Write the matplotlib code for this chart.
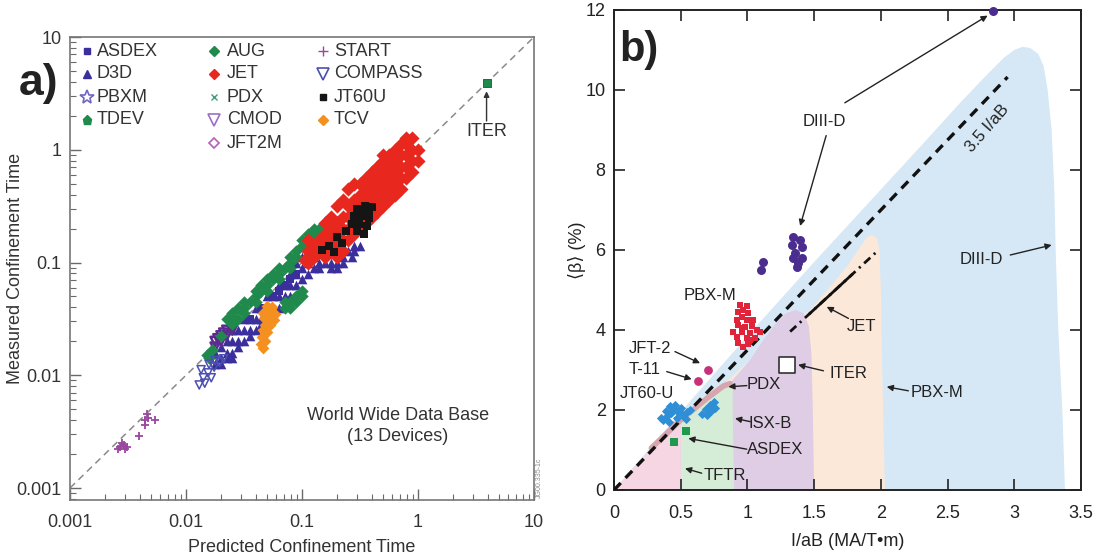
import matplotlib
matplotlib.use("Agg")
import matplotlib.pyplot as plt
from matplotlib.patches import Polygon
from matplotlib.lines import Line2D
from matplotlib.ticker import FixedLocator, LogLocator, NullFormatter

plt.rcParams['font.family'] = ['Liberation Sans', 'DejaVu Sans']
plt.rcParams['lines.scale_dashes'] = False

# ---------------- panel a) : confinement time database ----------------
# (predicted, measured) pairs in seconds
start_pts = [(0.0027, 0.0023), (0.0029, 0.0024), (0.0030, 0.0022), (0.0028, 0.0025),
             (0.0031, 0.0023), (0.0026, 0.0022), (0.0044, 0.0040), (0.0047, 0.0042),
             (0.0054, 0.0040), (0.0039, 0.0029), (0.0044, 0.0036), (0.0046, 0.0045)]
compass_pts = [(0.0135, 0.0112), (0.0141, 0.0095), (0.0155, 0.0105), (0.0158, 0.0125),
               (0.0175, 0.0118), (0.0178, 0.0135), (0.0195, 0.0130), (0.0211, 0.0140),
               (0.0145, 0.0085), (0.0130, 0.0082), (0.0165, 0.0095)]
cmod_pts = [(0.0178, 0.0178), (0.0178, 0.0200), (0.0200, 0.0200), (0.0200, 0.0224),
            (0.0224, 0.0224), (0.0224, 0.0251), (0.0251, 0.0282), (0.0251, 0.0251),
            (0.0266, 0.0300), (0.0211, 0.0237), (0.0188, 0.0211)]
d3d_pts = [(0.0178, 0.0126), (0.0178, 0.0158), (0.0200, 0.0141), (0.0200, 0.0178),
           (0.0224, 0.0158), (0.0224, 0.0200), (0.0251, 0.0158), (0.0251, 0.0200),
           (0.0251, 0.0251), (0.0282, 0.0200), (0.0282, 0.0251), (0.0316, 0.0200),
           (0.0316, 0.0251), (0.0316, 0.0316), (0.0355, 0.0251), (0.0355, 0.0316),
           (0.0398, 0.0251), (0.0398, 0.0316), (0.0398, 0.0398), (0.0447, 0.0316),
           (0.0447, 0.0398), (0.0501, 0.0316), (0.0501, 0.0398), (0.0501, 0.0501),
           (0.0562, 0.0398), (0.0562, 0.0501), (0.0631, 0.0398), (0.0631, 0.0501),
           (0.0631, 0.0631), (0.0708, 0.0501), (0.0708, 0.0631), (0.0794, 0.0501),
           (0.0794, 0.0631), (0.0794, 0.0794), (0.0891, 0.0631), (0.0891, 0.0794),
           (0.0891, 0.1000), (0.1000, 0.0708), (0.1000, 0.0891), (0.1000, 0.1120),
           (0.1120, 0.0794), (0.1120, 0.1000), (0.1120, 0.1260), (0.1260, 0.0891),
           (0.1260, 0.1120), (0.1410, 0.0891), (0.1410, 0.1000), (0.1580, 0.1000),
           (0.1780, 0.0891), (0.1780, 0.1000), (0.2000, 0.1000), (0.2000, 0.0891),
           (0.2240, 0.1000), (0.2240, 0.1120), (0.2510, 0.1260), (0.2700, 0.1120),
           (0.2820, 0.1260), (0.2820, 0.1410), (0.3160, 0.1410),
           (0.0224, 0.0141), (0.0282, 0.0178), (0.0355, 0.0224), (0.0447, 0.0282),
           (0.0562, 0.0355), (0.0200, 0.0126), (0.0251, 0.0141)]
asdex_pts = [(0.0447, 0.0398), (0.0562, 0.0501), (0.0708, 0.0631), (0.0891, 0.0794),
             (0.0631, 0.0562), (0.0794, 0.0708), (0.0355, 0.0316)]
aug_pts = [(0.0151, 0.0151), (0.0168, 0.0168), (0.0158, 0.0141), (0.0200, 0.0224),
           (0.0251, 0.0282), (0.0282, 0.0316), (0.0316, 0.0355), (0.0316, 0.0398),
           (0.0355, 0.0447), (0.0398, 0.0447), (0.0398, 0.0501), (0.0447, 0.0562),
           (0.0501, 0.0562), (0.0501, 0.0631), (0.0562, 0.0708), (0.0631, 0.0708),
           (0.0631, 0.0794), (0.0708, 0.0891), (0.0794, 0.0891), (0.0794, 0.1000),
           (0.0891, 0.1120), (0.0891, 0.1260), (0.1000, 0.1410), (0.1000, 0.1580),
           (0.1120, 0.1580), (0.1120, 0.1780), (0.1260, 0.1780), (0.1260, 0.2000),
           (0.1410, 0.2000),
           (0.0224, 0.0316), (0.0251, 0.0355), (0.0316, 0.0447), (0.0398, 0.0562),
           (0.0501, 0.0708), (0.0631, 0.0891), (0.0794, 0.1120), (0.0282, 0.0398),
           (0.0447, 0.0631), (0.0562, 0.0794),
           (0.0794, 0.0447), (0.0891, 0.0501), (0.0891, 0.0447), (0.1000, 0.0562),
           (0.1000, 0.0501), (0.0708, 0.0398), (0.0794, 0.0398), (0.0708, 0.0447)]
tcv_pts = [(0.046, 0.036), (0.050, 0.037), (0.054, 0.036), (0.058, 0.035), (0.050, 0.041),
           (0.055, 0.040), (0.047, 0.032), (0.052, 0.032), (0.057, 0.031), (0.048, 0.028),
           (0.053, 0.028), (0.046, 0.025), (0.050, 0.024), (0.045, 0.022), (0.048, 0.020),
           (0.044, 0.019), (0.046, 0.0175)]
jet_pts = [(0.106, 0.106), (0.112, 0.100),
           (0.112, 0.126), (0.112, 0.158),
           (0.126, 0.112), (0.126, 0.141),
           (0.141, 0.126), (0.141, 0.158),
           (0.158, 0.112), (0.158, 0.141), (0.158, 0.178), (0.158, 0.224),
           (0.178, 0.126), (0.178, 0.158), (0.178, 0.200), (0.178, 0.251),
           (0.200, 0.112), (0.200, 0.141), (0.200, 0.178), (0.200, 0.224), (0.200, 0.316),
           (0.224, 0.126), (0.224, 0.158), (0.224, 0.200), (0.224, 0.251), (0.224, 0.355),
           (0.251, 0.158), (0.251, 0.200), (0.251, 0.251), (0.251, 0.316), (0.251, 0.447),
           (0.282, 0.178), (0.282, 0.224), (0.282, 0.282), (0.282, 0.355), (0.282, 0.501),
           (0.316, 0.200), (0.316, 0.251), (0.316, 0.316), (0.316, 0.398), (0.316, 0.501),
           (0.355, 0.224), (0.355, 0.282), (0.355, 0.355), (0.355, 0.447), (0.355, 0.562),
           (0.398, 0.251), (0.398, 0.316), (0.398, 0.398), (0.398, 0.501), (0.398, 0.631),
           (0.447, 0.282), (0.447, 0.355), (0.447, 0.447), (0.447, 0.562), (0.447, 0.708),
           (0.501, 0.316), (0.501, 0.398), (0.501, 0.501), (0.501, 0.631), (0.501, 0.794),
           (0.501, 0.891),
           (0.562, 0.355), (0.562, 0.447), (0.562, 0.562), (0.562, 0.708), (0.562, 0.891),
           (0.631, 0.398), (0.631, 0.501), (0.631, 0.631), (0.631, 0.794), (0.631, 1.000),
           (0.708, 0.447), (0.708, 0.562), (0.708, 0.708), (0.708, 0.891), (0.708, 1.120),
           (0.794, 0.562), (0.794, 0.708), (0.794, 0.891), (0.794, 1.120), (0.794, 1.260),
           (0.891, 0.631), (0.891, 0.794), (0.891, 1.000), (0.891, 1.260),
           (1.000, 0.794), (1.000, 1.000)]
jt60u_pts = [(0.30, 0.30), (0.35, 0.32), (0.38, 0.29), (0.28, 0.26), (0.33, 0.26),
             (0.38, 0.25), (0.27, 0.22), (0.31, 0.22), (0.36, 0.21), (0.30, 0.19),
             (0.34, 0.18), (0.40, 0.31), (0.33, 0.30), (0.20, 0.17), (0.22, 0.15),
             (0.17, 0.14), (0.19, 0.125), (0.15, 0.13), (0.24, 0.19)]
iter_pt = (3.9, 3.9)
diag = [0.001, 10]

# ---------------- panel b) : beta limit ----------------
diiid_region = [(0, 0), (0.5, 1.95), (1.0, 3.85), (1.5, 5.7), (1.9, 7.15), (2.3, 8.6),
                (2.6, 9.7), (2.8, 10.4), (2.92, 10.8), (3.0, 11.0), (3.06, 11.08),
                (3.12, 11.05), (3.18, 10.9), (3.22, 10.6), (3.25, 10.0), (3.28, 9.0),
                (3.30, 7.5), (3.31, 6.0), (3.33, 4.0), (3.36, 2.0), (3.38, 0)]
jet_region = [(0, 0), (1.0, 3.2), (1.47, 4.5), (1.6, 5.0), (1.75, 5.6), (1.84, 6.05),
              (1.89, 6.3), (1.93, 6.38), (1.97, 6.3), (1.99, 6.0), (2.0, 5.0),
              (2.01, 3.0), (2.03, 0)]
isxb_region = [(0, 0), (0.5, 1.7), (0.85, 2.6), (1.02, 3.25), (1.12, 3.75), (1.22, 4.2),
               (1.29, 4.42), (1.36, 4.5), (1.42, 4.42), (1.46, 4.1), (1.48, 3.4),
               (1.49, 2.0), (1.5, 0)]
tftr_region = [(0.5, 0), (0.5, 1.75), (0.7, 2.3), (0.82, 2.6), (0.88, 2.64), (0.89, 2.5),
               (0.89, 2.0), (0.9, 0)]
pink_region = [(0, 0), (0.28, 1.05), (0.5, 1.75), (0.5, 0)]
pdx_band = [(0.28, 1.05), (0.5, 1.75), (0.7, 2.3), (0.82, 2.6), (0.87, 2.66)]

limit_slope = 3.5
limit_x = [0, 2.95]
jet_line = [(1.32, 3.96), (1.97, 5.96)]
jet_line_solid = [(1.47, 4.42), (1.78, 5.375)]

diiid_x = [1.344, 1.394, 1.332, 1.407, 1.357, 1.344, 1.407, 1.382, 1.369, 1.12, 1.10, 2.84]
diiid_y = [6.33, 6.25, 6.13, 6.08, 5.92, 5.79, 5.79, 5.67, 5.58, 5.71, 5.50, 11.97]
pbxm_x = [0.944, 0.994, 0.932, 1.007, 0.957, 0.919, 0.994, 1.044, 0.932, 0.982, 1.032,
          0.894, 0.957, 1.019, 1.069, 1.094, 0.919, 0.994, 1.057, 0.932, 1.007, 0.969,
          1.019, 0.970, 0.960]
pbxm_y = [4.63, 4.60, 4.46, 4.42, 4.33, 4.25, 4.25, 4.25, 4.13, 4.08, 4.10, 3.96, 3.96,
          3.92, 4.00, 3.96, 3.83, 3.79, 3.79, 3.67, 3.65, 3.58, 3.75, 4.50, 4.05]
jft2_t11_x = [0.707, 0.627]
jft2_t11_y = [3.00, 2.73]
jt60u_x = [0.37, 0.40, 0.39, 0.43, 0.45, 0.42, 0.48, 0.50, 0.47, 0.52, 0.55, 0.41, 0.35,
           0.46, 0.54, 0.57, 0.66, 0.69, 0.72, 0.70, 0.75, 0.73, 0.76]
jt60u_y = [1.75, 1.85, 1.97, 1.92, 2.03, 2.10, 1.95, 2.05, 1.80, 1.88, 1.95, 1.70, 1.80,
           2.12, 1.78, 2.00, 1.90, 2.02, 2.12, 1.87, 2.20, 1.97, 2.05]
asdex_x = [0.45, 0.54]
asdex_y = [1.21, 1.48]
iter_b = (1.295, 3.12)

W, H = 1098, 559
fig = plt.figure(figsize=(W / 100, H / 100), dpi=100)


def fx(px):
    return px / W


def fy(py):
    return 1 - py / H


# ======================= panel a =======================
axa = fig.add_axes([fx(70), fy(500), fx(534) - fx(70), fy(37) - fy(500)])
axa.set_xscale('log')
axa.set_yscale('log')
axa.set_xlim(0.001, 10)
axa.set_ylim(10 ** (-3 - 12 / 112.75), 10)
decades = [0.001, 0.01, 0.1, 1, 10]
labels = ['0.001', '0.01', '0.1', '1', '10']
for axis in (axa.xaxis, axa.yaxis):
    axis.set_major_locator(FixedLocator(decades))
    axis.set_minor_locator(LogLocator(base=10, subs=range(2, 10)))
    axis.set_minor_formatter(NullFormatter())
axa.set_xticklabels(labels)
axa.set_yticklabels(labels)
axa.tick_params(which='both', direction='in', top=False, right=False,
                colors='#6a6a6a', labelcolor='#333333', labelsize=13)
axa.tick_params(which='major', length=8, width=1.0, pad=6)
axa.tick_params(axis='x', which='major', pad=10)
axa.tick_params(which='minor', length=4, width=0.8)
for sp in axa.spines.values():
    sp.set_color('#777777')
    sp.set_linewidth(1.2)

axa.plot(diag, diag, color='#8a8a8a', lw=1.1, dashes=(5, 3.5), zorder=1)


def sc(pts, **kw):
    xs = [p[0] for p in pts]
    ys = [p[1] for p in pts]
    axa.scatter(xs, ys, **kw)


sc(d3d_pts, marker='^', s=48, color='#3a2f9c', linewidths=0, zorder=2)
sc(asdex_pts, marker='s', s=34, color='#3a2f9c', linewidths=0, zorder=2)
sc(cmod_pts, marker='v', s=42, facecolors='none', edgecolors='#5c2b8e', linewidths=1.8, zorder=3)
sc(aug_pts, marker='D', s=40, color='#1f8a4c', linewidths=0, zorder=3)
sc(tcv_pts, marker='D', s=36, color='#f39020', linewidths=0, zorder=4)
sc(jet_pts, marker='D', s=52, color='#e8281e', linewidths=0, zorder=4)
sc(jt60u_pts, marker='s', s=34, color='#151515', linewidths=0, zorder=5)
sc(compass_pts, marker='v', s=34, facecolors='none', edgecolors='#4b4fb0', linewidths=1.1, zorder=3)
sc(start_pts, marker='+', s=40, color='#9a47a0', linewidths=1.3, zorder=3)
axa.scatter([iter_pt[0]], [iter_pt[1]], marker='s', s=40, color='#1f8a4c',
            edgecolors='#145c32', linewidths=0.6, zorder=5)
axa.annotate('', xy=(3.9, 3.3), xytext=(3.9, 1.8),
             arrowprops=dict(arrowstyle='-|>', color='#333333', lw=1.0,
                             mutation_scale=8, shrinkA=0, shrinkB=0))
axa.text(3.9, 1.45, 'ITER', ha='center', va='center', fontsize=13, color='#333333')
axa.text(0.707, 0.16, 'World Wide Data Base\n(13 Devices)', transform=axa.transAxes,
         ha='center', va='center', fontsize=13, color='#333333', linespacing=1.35)
axa.set_xlabel('Predicted Confinement Time', fontsize=13, color='#333333')
axa.xaxis.set_label_coords(0.5, -0.085)
axa.set_ylabel('Measured Confinement Time', fontsize=13, color='#333333')
axa.yaxis.set_label_coords(-0.10, 0.5)

# legend, drawn as markers and text in figure pixels
legend_rows = [51, 74, 97, 120, 143]
legend_cols = [(87, 97), (214, 227), (323, 334)]
legend_items = [
    (0, 0, 's', '#3a2f9c', True, 'ASDEX'),
    (0, 1, '^', '#3a2f9c', True, 'D3D'),
    (0, 2, '*', '#6f66c4', False, 'PBXM'),
    (0, 3, 'p', '#1f8a4c', True, 'TDEV'),
    (1, 0, 'D', '#1f8a4c', True, 'AUG'),
    (1, 1, 'D', '#e8281e', True, 'JET'),
    (1, 2, 'x', '#3f9e7c', True, 'PDX'),
    (1, 3, 'v', '#9b6fc6', False, 'CMOD'),
    (1, 4, 'D', '#b45fba', False, 'JFT2M'),
    (2, 0, '+', '#9a47a0', True, 'START'),
    (2, 1, 'v', '#4b4fb0', False, 'COMPASS'),
    (2, 2, 's', '#151515', True, 'JT60U'),
    (2, 3, 'D', '#f39020', True, 'TCV'),
]
msizes = {'s': 5, '^': 6, '*': 10, 'p': 6.5, 'D': 5, 'x': 5, 'v': 8, '+': 7}
for col, row, mk, colr, filled, name in legend_items:
    mx, tx = legend_cols[col]
    yy = fy(legend_rows[row])
    fig.add_artist(Line2D([fx(mx)], [yy], marker=mk, markersize=msizes[mk],
                          markerfacecolor=colr if filled else 'none',
                          markeredgecolor=colr, markeredgewidth=1.2 if not filled else 1.0,
                          linestyle='none', transform=fig.transFigure))
    fig.text(fx(tx), yy, name, ha='left', va='center', fontsize=13, color='#333333')

fig.text(fx(19), fy(83), 'a)', ha='left', va='center', fontsize=32,
         fontweight='bold', color='#222222')
fig.text(fx(539), fy(478), 'JG00.335-1c', rotation=90, ha='center', va='center',
         fontsize=5, color='#888888')

# ======================= panel b =======================
axb = fig.add_axes([fx(614), fy(490), fx(1081) - fx(614), fy(10) - fy(490)])
axb.set_xlim(0, 3.5)
axb.set_ylim(0, 12)
axb.set_xticks([0, 0.5, 1, 1.5, 2, 2.5, 3, 3.5])
axb.set_xticklabels(['0', '0.5', '1', '1.5', '2', '2.5', '3', '3.5'])
axb.set_yticks([0, 2, 4, 6, 8, 10, 12])
axb.tick_params(direction='in', top=True, right=True, length=8, width=1.2,
                labelsize=13, colors='#222222', pad=6)
axb.tick_params(axis='x', pad=11)
for sp in axb.spines.values():
    sp.set_color('#222222')
    sp.set_linewidth(1.4)

for verts, colr in [(diiid_region, '#d6e8f6'), (jet_region, '#fce8d9'),
                    (isxb_region, '#decde4'), (tftr_region, '#d5ecd6'),
                    (pink_region, '#f6d6e2')]:
    axb.add_patch(Polygon(verts, closed=True, facecolor=colr, edgecolor='none', zorder=1))
axb.plot([p[0] for p in pdx_band], [p[1] for p in pdx_band], color='#d7a5ae', lw=4,
         solid_capstyle='round', zorder=2)

axb.plot(limit_x, [limit_slope * x for x in limit_x], color='#111111', lw=2.4,
         dashes=(7, 5), zorder=3)
axb.plot([p[0] for p in jet_line], [p[1] for p in jet_line], color='#111111', lw=2.0,
         dashes=(6, 3.5, 1.5, 3.5), zorder=3)
axb.plot([p[0] for p in jet_line_solid], [p[1] for p in jet_line_solid], color='#111111',
         lw=2.0, zorder=3)

axb.scatter(diiid_x, diiid_y, s=42, color='#4a2d8e', linewidths=0, zorder=5, clip_on=False)
axb.scatter(pbxm_x, pbxm_y, marker='s', s=22, color='#e0243a', linewidths=0, zorder=5)
axb.scatter(jft2_t11_x, jft2_t11_y, s=40, color='#c8307a', linewidths=0, zorder=5)
axb.scatter(jt60u_x, jt60u_y, marker='D', s=22, color='#2e8fd6', linewidths=0, zorder=5)
axb.scatter(asdex_x, asdex_y, marker='s', s=26, color='#1f9a4c', linewidths=0, zorder=5)
axb.scatter([iter_b[0]], [iter_b[1]], marker='s', s=120, facecolors='white',
            edgecolors='#222222', linewidths=1.1, zorder=5)

arrow_kw = dict(arrowstyle='-|>', color='#222222', lw=1.0, mutation_scale=9,
                shrinkA=0, shrinkB=0)


def label(txt, pos, arrows=(), **kw):
    axb.text(pos[0], pos[1], txt, ha='center', va='center', fontsize=12,
             color='#222222', zorder=6, **kw)
    for tail, head in arrows:
        axb.annotate('', xy=head, xytext=tail, arrowprops=arrow_kw, zorder=6,
                     annotation_clip=False)


label('DIII-D', (1.576, 9.2), [((1.73, 9.68), (2.80, 11.86)),
                                ((1.59, 8.86), (1.395, 6.6))])
label('DIII-D', (2.756, 5.75), [((2.97, 5.875), (3.28, 6.125))])
label('PBX-M', (0.72, 4.875))
label('JFT-2', (0.27, 3.54), [((0.457, 3.46), (0.645, 3.17))])
label('T-11', (0.232, 3.0), [((0.395, 2.96), (0.582, 2.77))])
label('JT60-U', (0.245, 2.42))
label('PDX', (1.12, 2.63), [((0.995, 2.61), (0.857, 2.58))])
label('ITER', (1.757, 2.92), [((1.57, 2.98), (1.38, 3.13))])
label('ISX-B', (1.17, 1.67), [((1.02, 1.71), (0.907, 1.79))])
label('ASDEX', (1.207, 1.0), [((0.995, 1.02), (0.557, 1.29))])
label('TFTR', (0.832, 0.375), [((0.657, 0.42), (0.532, 0.54))])
label('JET', (1.857, 4.08), [((1.757, 4.29), (1.594, 4.58))])
label('PBX-M', (2.42, 2.43), [((2.206, 2.48), (2.044, 2.58))])
axb.text(2.80, 9.05, '3.5 I/aB', rotation=49, rotation_mode='anchor', ha='center',
         va='center', fontsize=12, color='#222222', zorder=6)

axb.set_xlabel('I/aB (MA/T\u2022m)', fontsize=13, color='#222222')
axb.xaxis.set_label_coords(0.5, -0.09)
axb.set_ylabel('\u27e8\u03b2\u27e9 (%)', fontsize=13, color='#222222')
axb.yaxis.set_label_coords(-0.06, 0.5)
fig.text(fx(619), fy(50), 'b)', ha='left', va='center', fontsize=30,
         fontweight='bold', color='#222222')

fig.savefig('out.png', dpi=100)
